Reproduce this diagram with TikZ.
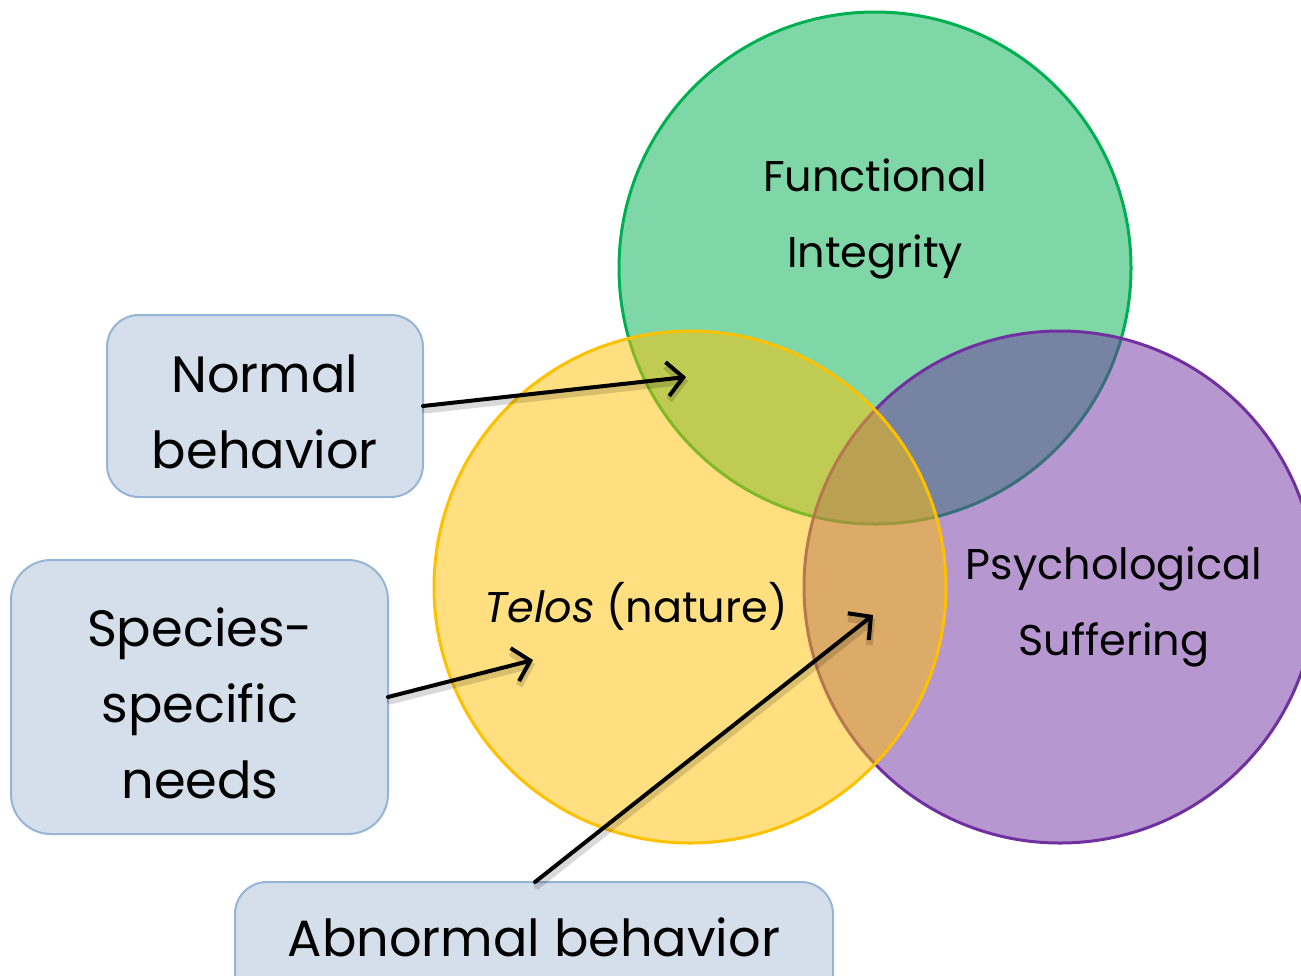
\documentclass[tikz,border=0pt]{standalone}
\usepackage{fontspec}
\setmainfont{Poppins}
\usetikzlibrary{arrows.meta}
\definecolor{cgreen}{RGB}{0,176,80}
\definecolor{cyellow}{RGB}{255,192,0}
\definecolor{cpurple}{RGB}{112,48,160}
\definecolor{boxfill}{RGB}{213,223,235}
\definecolor{boxline}{RGB}{150,180,214}
\tikzset{
  venn/.style={line width=3pt, fill opacity=0.5},
  labelbox/.style={draw=boxline, fill=boxfill, line width=2pt, rounded corners=32pt},
  bigtext/.style={font=\fontsize{51}{76}\selectfont, align=center, text=black},
  midtext/.style={font=\fontsize{43}{76}\selectfont, align=center, text=black},
  arr/.style={line width=4pt, -{Straight Barb[length=16pt,width=34pt]}, line cap=round},
  arrshadow/.style={line width=7pt, draw=black, draw opacity=0.15, line cap=round, -{Straight Barb[length=16pt,width=34pt]}},
}
\begin{document}
\begin{tikzpicture}[x=1pt,y=-1pt]
\useasboundingbox (0,0) rectangle (1301,975);
% circles: green, purple, yellow
\draw[venn, draw=cgreen, fill=cgreen] (875,268) circle (256);
\draw[venn, draw=cpurple, fill=cpurple] (1060,587) circle (256);
\draw[venn, draw=cyellow, fill=cyellow] (690,587) circle (256);
% circle labels
\node[midtext] (fi) at (875,219) {Functional\\Integrity};
\node[midtext] (ps) at (1114,607) {Psychological\\Suffering};
\node[midtext] (te) at (636,606) {\textit{Telos} (nature)};
% boxes
\path[labelbox] (107,315) rectangle (423,497);
\node[bigtext] (nb) at (265,412) {Normal\\behavior};
\coordinate (nbR) at (423,406);
\path[labelbox, rounded corners=40pt] (11,560) rectangle (388,834);
\node[bigtext] (ss) at (200,703) {Species-\\specific\\needs};
\coordinate (ssR) at (388,697);
\path[labelbox] (235,882) rectangle (833,1010);
\node[bigtext] (ab) at (534,937) {Abnormal behavior};
\coordinate (abT) at (535,882);
% targets
\coordinate (t1) at (686,377);
\coordinate (t2) at (533,660);
\coordinate (t3) at (873,615);
% shadows
\draw[arrshadow, transform canvas={shift={(2pt,-4pt)}}] (nbR) -- (t1);
\draw[arrshadow, transform canvas={shift={(2pt,-4pt)}}] (ssR) -- (t2);
\draw[arrshadow, transform canvas={shift={(2pt,-4pt)}}] (abT) -- (t3);
% arrows
\draw[arr] (nbR) -- (t1);
\draw[arr] (ssR) -- (t2);
\draw[arr] (abT) -- (t3);
\end{tikzpicture}
\end{document}
